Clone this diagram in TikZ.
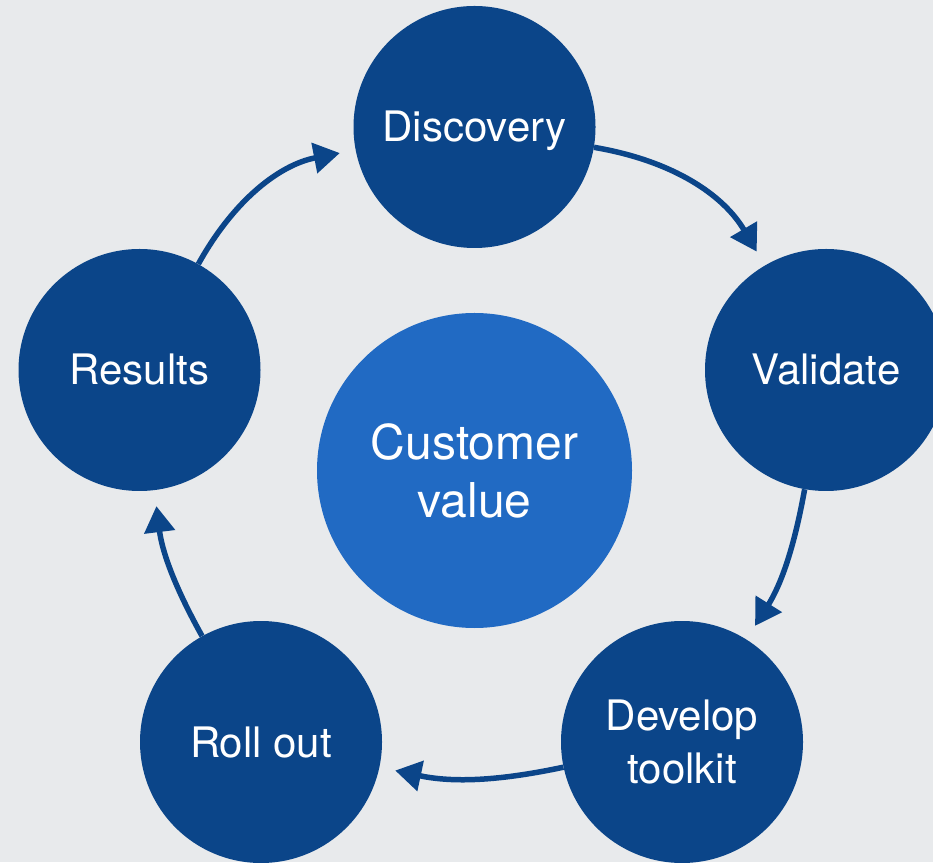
\documentclass[tikz,border=0pt]{standalone}
\usepackage{fontspec}
\setmainfont{TeX Gyre Heros}
\usetikzlibrary{positioning, arrows.meta}
\definecolor{stageblue}{HTML}{0B4589}
\definecolor{coreblue}{HTML}{216AC3}
\definecolor{paper}{HTML}{E8EAEC}

\begin{document}
\begin{tikzpicture}[x=1pt, y=1pt, on grid,
    stage/.style={circle, fill=stageblue, minimum size=242pt, inner sep=0pt,
        text=white, align=center, font=\fontsize{42}{53}\selectfont},
    oneline/.style={text height=38pt, text depth=8pt},
    core/.style={circle, fill=coreblue, minimum size=315pt, inner sep=0pt,
        text=white, align=center, font=\fontsize{48}{58}\selectfont},
    flow/.style={draw=stageblue, line width=5.5pt, shorten >=16pt,
        -{Triangle[length=26pt,width=30pt]}}]
\fill[paper] (0,0) rectangle (933,862);
\useasboundingbox (0,0) rectangle (933,862);
\clip (0,0) rectangle (933,862);

\node[core]  (value)     at (474.5,391.5) {Customer\\value};
\node[stage, oneline] (discovery) [above = 343.5pt of value] {Discovery};
\node[stage, oneline] (validate)  [above right = 100.5pt and 351.5pt of value] {Validate};
\node[stage] (develop)   [below right = 271.5pt and 207.5pt of value] {Develop\\toolkit};
\node[stage, oneline] (rollout)   [below left = 271.5pt and 213.5pt of value] {Roll out};
\node[stage, oneline] (results)   [above left = 100.5pt and 335pt of value] {Results};

\path
    (discovery) edge [flow, bend left=25] (validate)
    (validate)  edge [flow, bend left=11] (develop)
    (develop)   edge [flow, bend left=12] (rollout)
    (rollout)   edge [flow, bend left=11] (results)
    (results)   edge [flow, bend left=25] (discovery);
\end{tikzpicture}
\end{document}
